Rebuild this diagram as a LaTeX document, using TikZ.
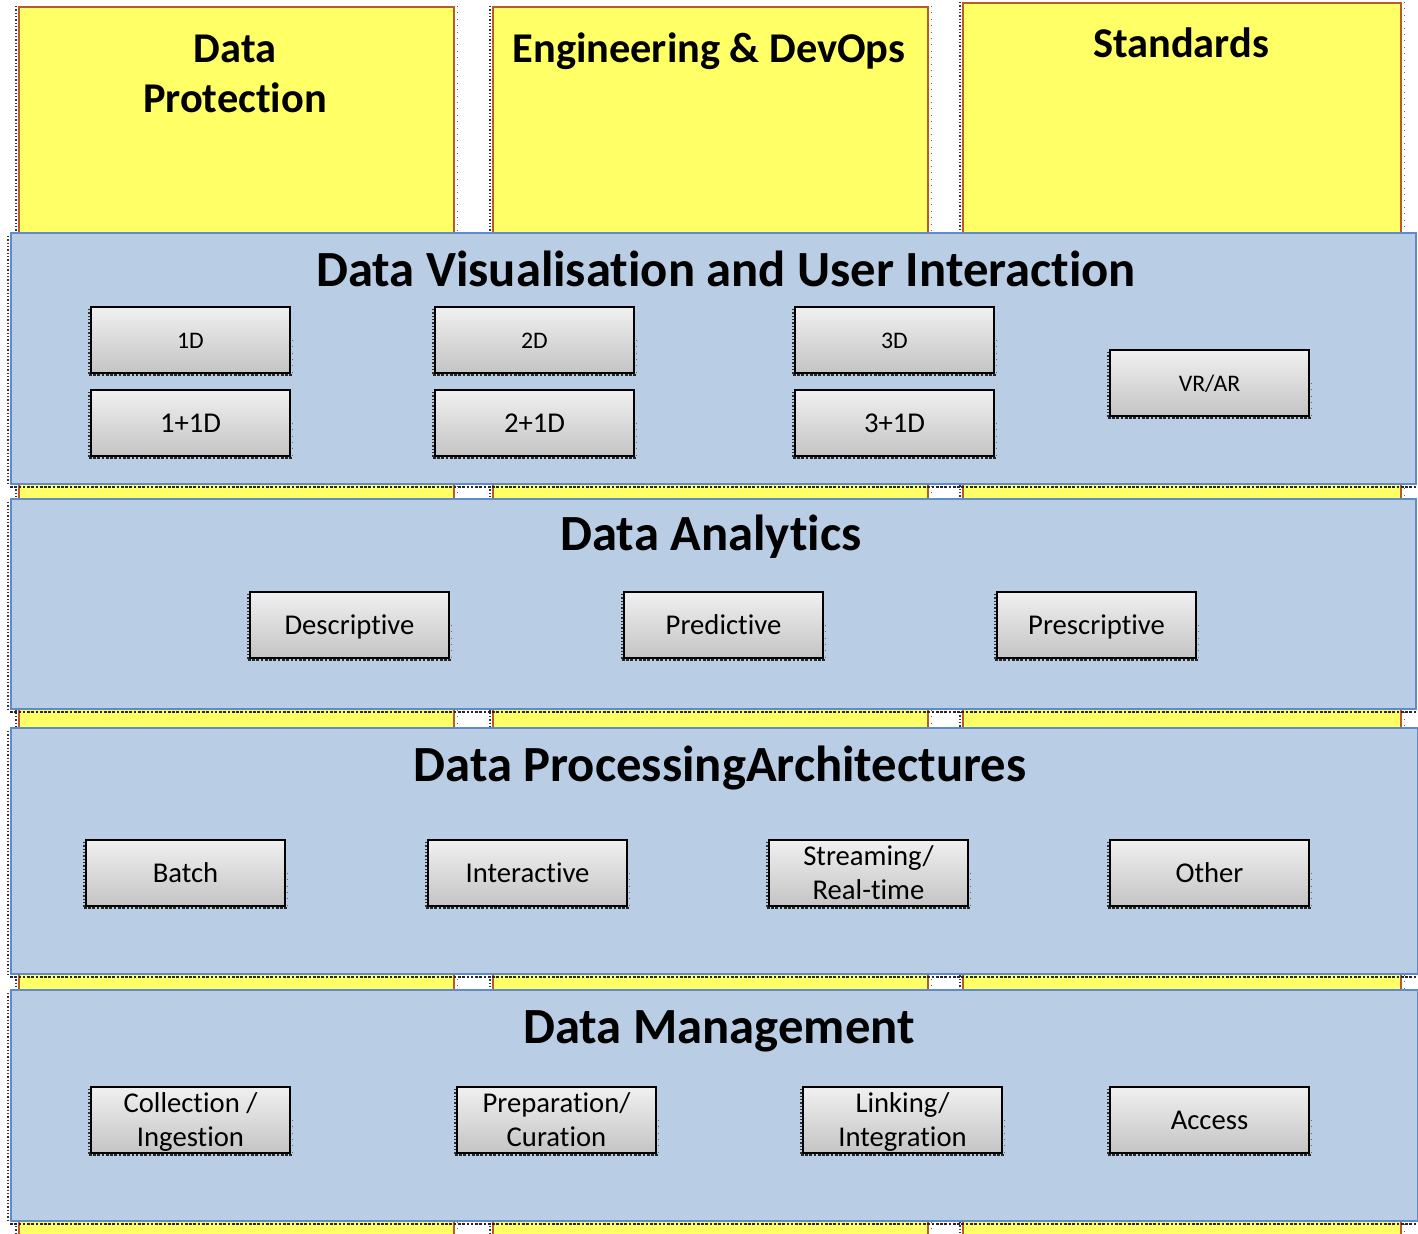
\documentclass[tikz,border=0pt]{standalone}
\usepackage{fontspec}
\setmainfont{Carlito}[RawFeature=-liga]
\definecolor{pillarfill}{RGB}{255,255,102}
\definecolor{pillarline}{RGB}{185,90,40}
\definecolor{bandfill}{RGB}{185,205,229}
\definecolor{bandline}{RGB}{95,140,200}
\definecolor{boxtop}{RGB}{240,240,240}
\definecolor{boxbottom}{RGB}{196,196,196}
% fixed line heights so every label sits at the same place in its box
\newcommand\boxstrut{\rule[-6pt]{0pt}{26pt}}
\newcommand\twostrut{\rule[-5pt]{0pt}{24pt}}
\newcommand\smallstrut{\rule[-5pt]{0pt}{22.5pt}}
\begin{document}
\begin{tikzpicture}[x=0.75pt,y=-0.75pt,
  pillar/.style={draw=pillarline, fill=pillarfill, line width=1.2pt, inner sep=0pt,
    anchor=north west, minimum height=925.5pt},
  band/.style={draw=bandline, fill=bandfill, line width=1.2pt, inner sep=0pt,
    anchor=north west},
  pillartitle/.style={font=\fontsize{31.8}{37}\selectfont\bfseries, align=center, anchor=base},
  bandtitle/.style={font=\fontsize{38}{44}\selectfont\bfseries, anchor=base},
  gbox/.style={draw=black, line width=0.8pt, top color=boxtop, bottom color=boxbottom,
    minimum width=149.25pt, minimum height=49.5pt, inner sep=0pt, align=center,
    font=\fontsize{21.5}{25}\selectfont},
  sbox/.style={gbox, font=\fontsize{17.8}{21}\selectfont},
  edgeleft/.style={black!80, line width=1pt, dash pattern=on 1pt off 1.5pt},
  edgebottom/.style={black!85, line width=1.6pt, dash pattern=on 2pt off 1.2pt},
  edgeright/.style={black!60, line width=0.8pt, dash pattern=on 0.8pt off 4pt}
]
\useasboundingbox (0,0) rectangle (1418,1233);

% vertical pillars
\node[pillar, minimum width=326.25pt] (colA) at (18,6) {};
\node[pillar, minimum width=326.25pt] (colB) at (492,6) {};
\node[pillar, minimum width=328.5pt, minimum height=928.5pt] (colC) at (962,2) {};

\foreach \n in {colA,colB,colC}{
  \draw[edgeleft] ([xshift=-1.5pt]\n.north west) -- ([xshift=-1.5pt]\n.south west);
  \draw[edgeright] ([xshift=2.5pt]\n.north east) -- ([xshift=2.5pt]\n.south east);
}

\node[pillartitle] (tA) at (235,62) {Data};
\node[pillartitle] (tA2) at (235,112) {Protection};
\node[pillartitle] (tB) at (709,62) {Engineering \& DevOps};
\node[pillartitle] (tC) at (1181,57) {Standards};

% horizontal layers
\node[band, minimum width=1053.75pt, minimum height=188.25pt] (bandV) at (10,232) {};
\node[band, minimum width=1053.75pt, minimum height=157.5pt] (bandA) at (10,498) {};
\node[band, minimum width=1055.25pt, minimum height=184.5pt] (bandP) at (10,727) {};
\node[band, minimum width=1055.25pt, minimum height=173.25pt] (bandM) at (10,989) {};

\foreach \n in {bandV,bandA,bandP,bandM}{
  \draw[edgeleft] ([xshift=-1.5pt,yshift=-3pt]\n.north west) -- ([xshift=-1.5pt]\n.south west);
  \draw[edgebottom] ([yshift=-1.8pt]\n.south west) -- ([yshift=-1.8pt]\n.south east);
  \draw[edgeright] ([xshift=1.8pt,yshift=-6pt]\n.north east) -- ([xshift=1.8pt]\n.south east);
}

\node[bandtitle] (hV) at (726,286) {Data Visualisation and User Interaction};
\node[bandtitle] (hA) at (711,550) {Data Analytics};
\node[bandtitle] (hP) at (720,781) {Data ProcessingArchitectures};
\node[bandtitle] (hM) at (719,1043) {Data Management};

% visualisation
\node[sbox] (v1) at (190.5,340) {\smallstrut 1D};
\node[gbox] (v11) at (190.5,423) {\boxstrut 1+1D};
\node[sbox] (v2) at (534.5,340) {\smallstrut 2D};
\node[gbox] (v21) at (534.5,423) {\boxstrut 2+1D};
\node[sbox] (v3) at (894.5,340) {\smallstrut 3D};
\node[gbox] (v31) at (894.5,423) {\boxstrut 3+1D};
\node[sbox] (vr) at (1209.5,383) {\smallstrut VR/AR};

% analytics
\node[gbox] (aD) at (349.5,625) {\boxstrut Descriptive};
\node[gbox] (aP) at (723.5,625) {\boxstrut Predictive};
\node[gbox] (aS) at (1096.5,625) {\boxstrut Prescriptive};

% processing
\node[gbox] (pB) at (185.5,873) {\boxstrut Batch};
\node[gbox] (pI) at (527.5,873) {\boxstrut Interactive};
\node[gbox] (pS) at (868.5,873) {\twostrut Streaming/\\\twostrut Real-time};
\node[gbox] (pO) at (1209.5,873) {\boxstrut Other};

% management
\node[gbox] (mC) at (190.5,1120) {\twostrut Collection /\\\twostrut Ingestion};
\node[gbox] (mP) at (556.5,1120) {\twostrut Preparation/\\\twostrut Curation};
\node[gbox] (mL) at (902.5,1120) {\twostrut Linking/\\\twostrut Integration};
\node[gbox] (mA) at (1209.5,1120) {\boxstrut Access};

\foreach \n in {v1,v11,v2,v21,v3,v31,vr,aD,aP,aS,pB,pI,pS,pO,mC,mP,mL,mA}{
  \draw[edgeleft] ([xshift=-1.2pt,yshift=-2pt]\n.north west) -- ([xshift=-1.2pt]\n.south west);
  \draw[edgebottom, line width=1.2pt] ([xshift=-1.2pt,yshift=-1.2pt]\n.south west) -- ([xshift=1.2pt,yshift=-1.2pt]\n.south east);
  \draw[edgeright] ([xshift=1.5pt,yshift=-25pt]\n.north east) -- ([xshift=1.5pt]\n.south east);
}
\end{tikzpicture}
\end{document}
